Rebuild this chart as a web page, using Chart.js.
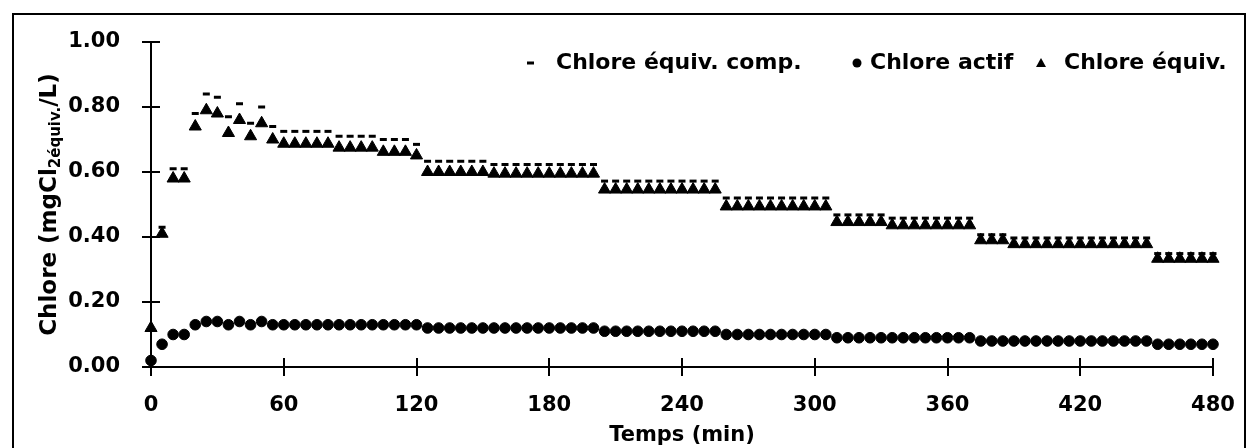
<!DOCTYPE html>
<html>
<head>
<meta charset="utf-8">
<script src="https://cdn.jsdelivr.net/npm/chart.js@4"></script>
<style>
  html, body { margin: 0; padding: 0; background: #fff; }
  #wrap { position: absolute; left: 0; top: 0; width: 1252px; height: 448px; }
</style>
</head>
<body>
<div id="wrap"><canvas id="chlore" width="1252" height="448"></canvas></div>
<script>
// temps (min)
const temps = [0,5,10,15,20,25,30,35,40,45,50,55,60,65,70,75,80,85,90,95,100,105,110,115,120,
  125,130,135,140,145,150,155,160,165,170,175,180,185,190,195,200,205,210,215,220,225,230,235,240,
  245,250,255,260,265,270,275,280,285,290,295,300,305,310,315,320,325,330,335,340,345,350,355,360,
  365,370,375,380,385,390,395,400,405,410,415,420,425,430,435,440,445,450,455,460,465,470,475,480];

const equivComp = [null,0.43,0.61,0.61,0.78,0.84,0.83,0.77,0.81,0.75,0.80,0.74,
  0.725,0.725,0.725,0.725,0.725,0.71,0.71,0.71,0.71,0.70,0.70,0.70,0.685,
  0.633,0.633,0.633,0.633,0.633,0.633,
  0.623,0.623,0.623,0.623,0.623,0.623,0.623,0.623,0.623,0.623,
  0.572,0.572,0.572,0.572,0.572,0.572,0.572,0.572,0.572,0.572,0.572,
  0.52,0.52,0.52,0.52,0.52,0.52,0.52,0.52,0.52,0.52,
  0.468,0.468,0.468,0.468,0.468,
  0.458,0.458,0.458,0.458,0.458,0.458,0.458,0.458,
  0.407,0.407,0.407,
  0.397,0.397,0.397,0.397,0.397,0.397,0.397,0.397,0.397,0.397,0.397,0.397,0.397,
  0.349,0.349,0.349,0.349,0.349,0.349];

const actif = [0.02,0.07,0.10,0.10,0.13,0.14,0.14,0.13,0.14,0.13,0.14,
  0.13,0.13,0.13,0.13,0.13,0.13,0.13,0.13,0.13,0.13,0.13,0.13,0.13,0.13,
  0.12,0.12,0.12,0.12,0.12,0.12,0.12,0.12,0.12,0.12,0.12,0.12,0.12,0.12,0.12,0.12,
  0.11,0.11,0.11,0.11,0.11,0.11,0.11,0.11,0.11,0.11,0.11,
  0.10,0.10,0.10,0.10,0.10,0.10,0.10,0.10,0.10,0.10,
  0.09,0.09,0.09,0.09,0.09,0.09,0.09,0.09,0.09,0.09,0.09,0.09,0.09,
  0.08,0.08,0.08,0.08,0.08,0.08,0.08,0.08,0.08,0.08,0.08,0.08,0.08,0.08,0.08,0.08,
  0.07,0.07,0.07,0.07,0.07,0.07];

const equiv = [0.12,0.41,0.58,0.58,0.74,0.79,0.78,0.72,0.76,0.71,0.75,0.70,
  0.687,0.687,0.687,0.687,0.687,0.675,0.675,0.675,0.675,0.662,0.662,0.662,0.651,
  0.60,0.60,0.60,0.60,0.60,0.60,
  0.595,0.595,0.595,0.595,0.595,0.595,0.595,0.595,0.595,0.595,
  0.546,0.546,0.546,0.546,0.546,0.546,0.546,0.546,0.546,0.546,0.546,
  0.494,0.494,0.494,0.494,0.494,0.494,0.494,0.494,0.494,0.494,
  0.446,0.446,0.446,0.446,0.446,
  0.436,0.436,0.436,0.436,0.436,0.436,0.436,0.436,
  0.39,0.39,0.39,
  0.378,0.378,0.378,0.378,0.378,0.378,0.378,0.378,0.378,0.378,0.378,0.378,0.378,
  0.333,0.333,0.333,0.333,0.333,0.333];

const xTicks = [0,60,120,180,240,300,360,420,480];
const legendLabels = ["Chlore équiv. comp.", "Chlore actif", "Chlore équiv."];

const FONT = "'DejaVu Sans'";

function pts(ys) {
    return temps.map((t, i) => ({ x: t, y: ys[i] }));
}

// outer frame + white background
const framePlugin = {
    id: "frame",
    beforeDraw(chart) {
        const c = chart.ctx;
        c.save();
        c.fillStyle = "#fff";
        c.fillRect(0, 0, chart.width, chart.height);
        c.strokeStyle = "#000";
        c.lineWidth = 2;
        c.strokeRect(13, 14, 1232, 460);
        c.restore();
    }
};

// ticks crossing the axes (inner half) + y title with subscript + legend
const extrasPlugin = {
    id: "extras",
    afterDraw(chart) {
        const c = chart.ctx;
        const xs = chart.scales.x, ys = chart.scales.y;
        const a = chart.chartArea;
        c.save();
        c.strokeStyle = "#000";
        c.lineWidth = 2;
        c.beginPath();
        xs.ticks.forEach(t => {
            const px = Math.round(xs.getPixelForValue(t.value));
            c.moveTo(px, a.bottom);
            c.lineTo(px, a.bottom - 9);
        });
        ys.ticks.forEach(t => {
            const py = Math.round(ys.getPixelForValue(t.value));
            c.moveTo(a.left, py);
            c.lineTo(a.left + 9, py);
        });
        c.stroke();

        // y axis title
        c.translate(56, (a.top + a.bottom) / 2);
        c.rotate(-Math.PI / 2);
        c.fillStyle = "#000";
        c.textBaseline = "alphabetic";
        const big = "bold 23px " + FONT, small = "bold 15px " + FONT;
        const p1 = "Chlore (mgCl", p2 = "2équiv.", p3 = "/L)";
        c.font = big;
        const w1 = c.measureText(p1).width, w3 = c.measureText(p3).width;
        c.font = small;
        const w2 = c.measureText(p2).width;
        let x0 = -(w1 + w2 + w3) / 2;
        c.font = big;
        c.textAlign = "left";
        c.fillText(p1, x0, 0);
        c.font = small;
        c.fillText(p2, x0 + w1, 4);
        c.font = big;
        c.fillText(p3, x0 + w1 + w2, 0);
        c.restore();

        // legend
        c.save();
        c.fillStyle = "#000";
        c.font = "bold 22px " + FONT;
        c.textBaseline = "middle";
        const ly = 63;
        // dash
        c.fillRect(527, ly - 1.5, 7, 3);
        c.fillText(legendLabels[0], 556, ly);
        // circle
        c.beginPath();
        c.arc(857, ly, 4.5, 0, Math.PI * 2);
        c.fill();
        c.fillText(legendLabels[1], 870, ly);
        // triangle
        c.beginPath();
        c.moveTo(1041, ly - 5);
        c.lineTo(1046, ly + 4);
        c.lineTo(1036, ly + 4);
        c.closePath();
        c.fill();
        c.fillText(legendLabels[2], 1064, ly);
        c.restore();
    }
};

const ctx = document.getElementById("chlore").getContext("2d");

new Chart(ctx, {
    type: "scatter",
    data: {
        datasets: [
            {
                label: legendLabels[1],
                data: pts(actif),
                pointStyle: "circle",
                pointRadius: 5.3,
                borderWidth: 1,
                backgroundColor: "#000",
                borderColor: "#000",
                clip: false
            },
            {
                label: legendLabels[2],
                data: pts(equiv),
                pointStyle: "triangle",
                pointRadius: 7,
                borderWidth: 1,
                backgroundColor: "#000",
                borderColor: "#000",
                clip: false
            },
            {
                label: legendLabels[0],
                data: pts(equivComp),
                pointStyle: "line",
                pointRadius: 3.5,
                borderWidth: 3,
                backgroundColor: "#000",
                borderColor: "#000",
                clip: false
            }
        ]
    },
    options: {
        responsive: false,
        animation: false,
        layout: { padding: { top: 42, right: 39, left: 0, bottom: 0 } },
        plugins: {
            legend: { display: false },
            tooltip: { enabled: false }
        },
        scales: {
            x: {
                type: "linear",
                min: 0,
                max: 480,
                afterBuildTicks(scale) {
                    scale.ticks = xTicks.map(v => ({ value: v }));
                },
                afterFit(scale) { scale.height = 81; },
                grid: {
                    drawOnChartArea: false,
                    drawTicks: true,
                    tickLength: 9,
                    color: "#000",
                    lineWidth: 2
                },
                border: { display: true, color: "#000", width: 2 },
                ticks: {
                    color: "#000",
                    padding: 17,
                    maxRotation: 0,
                    font: { family: FONT, size: 21, weight: "bold" }
                },
                title: {
                    display: true,
                    text: "Temps (min)",
                    color: "#000",
                    padding: { top: 0, bottom: 0 },
                    font: { family: FONT, size: 21, weight: "bold" }
                }
            },
            y: {
                min: 0,
                max: 1,
                afterFit(scale) { scale.width = 151; },
                grid: {
                    drawOnChartArea: false,
                    drawTicks: true,
                    tickLength: 9,
                    color: "#000",
                    lineWidth: 2
                },
                border: { display: true, color: "#000", width: 2 },
                ticks: {
                    stepSize: 0.2,
                    color: "#000",
                    padding: 22,
                    font: { family: FONT, size: 21, weight: "bold" },
                    callback: v => v.toFixed(2)
                }
            }
        }
    },
    plugins: [framePlugin, extrasPlugin]
});
</script>
</body>
</html>
